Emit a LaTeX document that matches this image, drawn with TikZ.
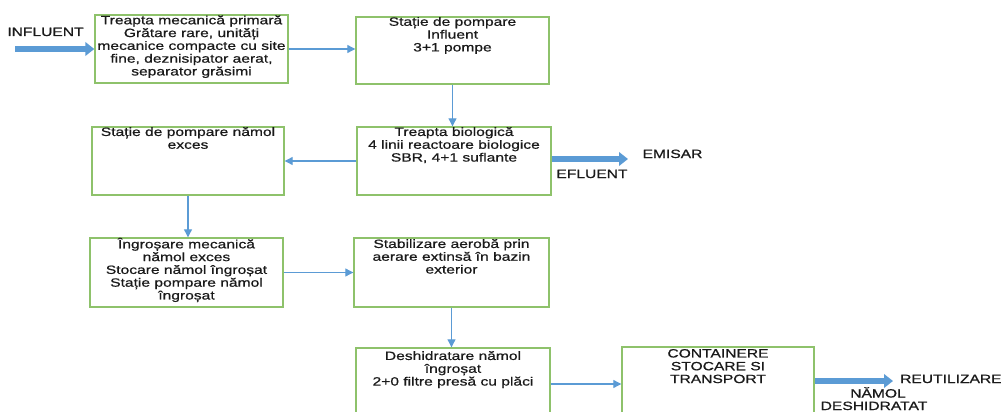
\documentclass[tikz,border=0pt]{standalone}
\usepackage{fontspec}
\setmainfont{Liberation Sans}[FakeStretch=1.3,FakeBold=0.7]
\usetikzlibrary{arrows.meta}
\definecolor{boxgreen}{HTML}{8EC26B}
\definecolor{flowblue}{HTML}{5B9BD5}
\definecolor{ink}{HTML}{1A1A1A}

\begin{document}
\begin{tikzpicture}[x=1pt,y=-1pt,
  stage/.style={draw=boxgreen, line width=1.4pt, inner sep=0pt},
  stagetext/.style={font=\fontsize{12}{12.8}\selectfont, text=ink, align=center,
    inner sep=0pt, anchor=north, execute at begin node=\rule{0pt}{11pt}},
  tag/.style={font=\fontsize{12}{12.8}\selectfont, text=ink, inner sep=0pt, anchor=base},
  flow/.style={draw=flowblue, line width=1.1pt, -{Triangle[length=8pt,width=8pt]}},
  mainflow/.style={draw=flowblue, line width=6pt, -{Triangle[length=9pt,width=13.5pt]}}]

\clip (0,0) rectangle (1002,412);
\fill[white] (0,0) rectangle (1002,412);

% treatment stages
\node[stage, minimum width=193pt, minimum height=68pt] (b1) at (191.5,49) {};
\node[stage, minimum width=193pt, minimum height=67pt] (b2) at (452.5,50.5) {};
\node[stage, minimum width=194pt, minimum height=68pt] (b3) at (454,161) {};
\node[stage, minimum width=192pt, minimum height=68pt] (b4) at (188,161) {};
\node[stage, minimum width=193pt, minimum height=69pt] (b5) at (186.5,272.5) {};
\node[stage, minimum width=195pt, minimum height=69pt] (b6) at (451.5,272.5) {};
\node[stage, minimum width=194pt, minimum height=72pt] (b7) at (453,384) {};
\node[stage, minimum width=192pt, minimum height=74pt] (b8) at (718,384) {};

% stage descriptions
\node[stagetext] (t1) at ([yshift=-0.9pt]b1.north) {Treapta mecanică primară\\Grătare rare, unități\\mecanice compacte cu site\\fine, deznisipator aerat,\\separator grăsimi};
\node[stagetext] (t2) at ([yshift=-0.6pt]b2.north) {Stație de pompare\\Influent\\3+1 pompe};
\node[stagetext] (t3) at ([yshift=-0.6pt]b3.north) {Treapta biologică\\4 linii reactoare biologice\\SBR, 4+1 suflante};
\node[stagetext] (t4) at ([yshift=-0.6pt]b4.north) {Stație de pompare nămol\\exces};
\node[stagetext] (t5) at ([yshift=-0.3pt]b5.north) {Îngroșare mecanică\\nămol exces\\Stocare nămol îngroșat\\Stație pompare nămol\\îngroșat};
\node[stagetext] (t6) at ([yshift=-1.6pt]b6.north) {Stabilizare aerobă prin\\aerare extinsă în bazin\\exterior};
\node[stagetext] (t7) at ([yshift=-3.6pt]b7.north) {Deshidratare nămol\\îngroșat\\2+0 filtre presă cu plăci};
\node[stagetext] (t8) at ([yshift=-2.6pt]b8.north) {CONTAINERE\\STOCARE SI\\TRANSPORT};

% inlet and outlet labels
\node[tag] (linf) at (45.5,36) {INFLUENT};
\node[tag] (lemi) at (672.5,158) {EMISAR};
\node[tag] (lefl) at (592,178) {EFLUENT};
\node[tag, anchor=base west] (lreu) at (900,383) {REUTILIZARE};
\node[tag] (lnam) at (878,397.5) {NĂMOL};
\node[tag] (ldes) at (874,410) {DESHIDRATAT};

% free ends of the main flows
\coordinate (inf) at (15,49);
\coordinate (emi) at (628,159);
\coordinate (reu) at (893,381);

% main water and sludge flows
\draw[mainflow] (inf) -- (b1.west);
\draw[mainflow] (b3.east |- emi) -- (emi);
\draw[mainflow] (b8.east |- reu) -- (reu);

% links between stages
\draw[flow] (b1.east) -- (b2.west |- b1.east);
\draw[flow] (b2.south) -- (b3.north -| b2.south);
\draw[flow] (b3.west) -- (b4.east);
\draw[flow] (b4.south) -- (b5.north -| b4.south);
\draw[flow] (b5.east) -- (b6.west |- b5.east);
\draw[flow] (b6.south) -- (b7.north -| b6.south);
\draw[flow] (b7.east) -- (b8.west);
\end{tikzpicture}
\end{document}
